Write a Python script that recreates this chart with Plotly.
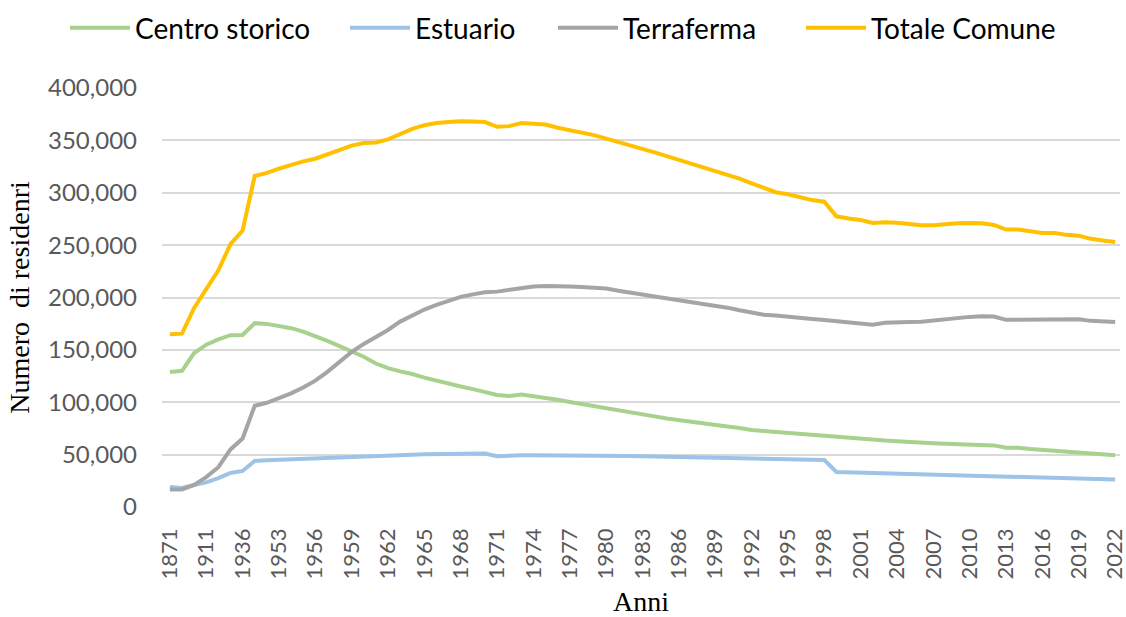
import plotly.graph_objects as go

years = ["1871", "1881", "1901", "1911", "1921", "1931", "1936"] + [str(y) for y in range(1951, 2023)]

centro_storico = [128.9, 130.0, 147.0, 155.0, 160.0, 164.0, 164.3, 175.5, 174.8, 173.0,
                  170.7, 167.5, 163.4, 158.5, 153.5, 149.0, 143.5, 137.0, 132.5, 129.5,
                  127.0, 123.5, 120.5, 117.8, 115.0, 112.5, 109.5, 107.0, 106.0, 107.3,
                  105.8, 104.3, 102.3, 100.3, 98.4, 96.7, 94.2, 92.8, 91.2, 89.0,
                  86.5, 84.5, 82.8, 81.5, 79.5, 78.3, 76.9, 75.5, 73.5, 72.5,
                  71.5, 70.6, 69.6, 68.6, 67.8, 67.0, 66.3, 65.4, 63.8, 63.4,
                  62.8, 61.9, 61.3, 60.8, 60.3, 59.9, 59.7, 59.3, 58.8, 56.5,
                  56.5, 55.3, 54.5, 53.6, 52.6, 51.8, 50.7, 50.0, 49.5]

estuario = [19.1, 18.2, 21.0, 23.5, 27.5, 32.5, 34.4, 44.0, 44.7, 45.2,
            45.6, 46.0, 46.5, 47.0, 47.5, 48.0, 48.3, 48.8, 49.3, 49.7,
            50.0, 50.3, 50.6, 50.8, 51.0, 51.1, 51.0, 48.5, 49.3, 49.5,
            49.5, 49.5, 49.5, 49.5, 49.4, 49.4, 49.3, 49.0, 48.8, 48.5,
            48.2, 48.0, 47.8, 47.6, 47.4, 47.2, 47.0, 46.8, 46.5, 46.2,
            46.0, 45.7, 45.4, 45.1, 44.8, 33.5, 33.2, 33.0, 32.4, 31.5,
            31.2, 30.9, 30.6, 30.4, 30.1, 29.8, 29.6, 29.4, 29.2, 28.8,
            28.5, 28.2, 28.0, 27.8, 27.5, 27.2, 26.8, 26.5, 26.2]

terraferma = [16.6, 16.8, 21.0, 28.5, 38.0, 55.0, 65.4, 96.7, 99.5, 103.7,
              108.5, 114.0, 120.6, 129.0, 138.5, 148.0, 155.7, 162.5, 169.0, 177.0,
              183.0, 188.5, 193.0, 197.0, 200.6, 203.0, 205.0, 205.6, 207.5, 209.5,
              210.5, 211.0, 211.0, 210.5, 210.0, 209.3, 208.5, 206.5, 205.0, 202.8,
              201.0, 199.3, 197.5, 195.8, 194.3, 192.5, 190.3, 187.8, 185.5, 183.6,
              182.8, 182.0, 180.8, 179.5, 178.5, 177.5, 176.8, 175.8, 174.0, 175.8,
              176.7, 176.7, 176.8, 178.0, 179.5, 180.5, 181.5, 182.0, 181.8, 178.7,
              178.7, 178.7, 178.9, 179.5, 179.6, 179.3, 177.7, 177.0, 176.5]

totale_comune = [165.0, 165.5, 190.0, 208.0, 226.0, 251.0, 264.0, 316.0, 319.0, 323.0,
                 327.0, 330.0, 332.5, 336.5, 340.5, 345.0, 347.5, 348.0, 351.0, 356.5,
                 361.0, 364.5, 366.5, 367.5, 368.3, 368.0, 367.5, 363.0, 363.6, 366.5,
                 365.8, 365.2, 362.1, 360.0, 357.5, 355.0, 351.6, 348.5, 345.5, 342.0,
                 338.5, 335.0, 331.5, 328.0, 324.5, 320.5, 317.4, 313.5, 309.0, 304.7,
                 300.5, 298.5, 296.0, 293.0, 291.5, 277.5, 275.5, 274.0, 271.2, 271.8,
                 271.3, 270.2, 269.0, 268.9, 270.0, 270.8, 271.2, 270.8, 269.3, 264.8,
                 264.8, 263.2, 261.6, 261.6, 259.8, 259.0, 256.0, 254.5, 253.0]

tick_labels = ["1871", "1911", "1936", "1953", "1956", "1959", "1962", "1965", "1968",
               "1971", "1974", "1977", "1980", "1983", "1986", "1989", "1992", "1995",
               "1998", "2001", "2004", "2007", "2010", "2013", "2016", "2019", "2022"]

series = [
    ("Centro storico", centro_storico, "#A9D18E"),
    ("Estuario", estuario, "#9DC3E6"),
    ("Terraferma", terraferma, "#A5A5A5"),
    ("Totale Comune", totale_comune, "#FFC000"),
]

W, H = 1126, 617

# legend entry left positions (pixels within the figure)
legend_x_px = [65, 345, 553, 801]
legend_ids = ["legend", "legend2", "legend3", "legend4"]

fig = go.Figure()
for (name, vals, color), lid in zip(series, legend_ids):
    fig.add_trace(go.Scatter(
        x=years, y=[v * 1000 for v in vals], name=name, mode="lines",
        line=dict(color=color, width=4), legend=lid,
    ))

legend_common = dict(orientation="h", xref="container", yref="container",
                     y=1 - 28 / H, yanchor="middle", xanchor="left",
                     font=dict(family="Lato", size=28, color="#000000"),
                     itemwidth=60, bgcolor="rgba(0,0,0,0)")
layout_legends = {lid: dict(legend_common, x=px / W) for lid, px in zip(legend_ids, legend_x_px)}

fig.update_layout(
    width=W, height=H,
    margin=dict(l=162, r=6, t=88, b=110, autoexpand=False),
    paper_bgcolor="white", plot_bgcolor="white",
    font=dict(family="Lato", size=24, color="#595959"),
    showlegend=True,
    **layout_legends,
)
fig.update_xaxes(
    type="category", range=[-0.65, 78.4], automargin=False,
    tickmode="array", tickvals=tick_labels, ticktext=tick_labels,
    tickangle=-90, showgrid=False, showline=False, ticks="",
    tickfont=dict(family="Lato", size=22, color="#595959"),
    ticklabelstandoff=16,
    title=dict(text="Anni", font=dict(family="Liberation Serif", size=28, color="#000000"), standoff=14),
)
fig.update_yaxes(
    range=[0, 400000], dtick=50000, tickformat=",", automargin=False,
    showgrid=True, gridcolor="#D9D9D9", gridwidth=1.5,
    zeroline=False, showline=False, ticks="",
    tickfont=dict(family="Lato", size=24, color="#595959"),
    ticklabelstandoff=24,
    title=dict(text="Numero  di residenri", font=dict(family="Liberation Serif", size=28, color="#000000"), standoff=10),
)

fig.write_html("out.html", config={"displayModeBar": False},
               post_script="document.body.style.margin='0';")
